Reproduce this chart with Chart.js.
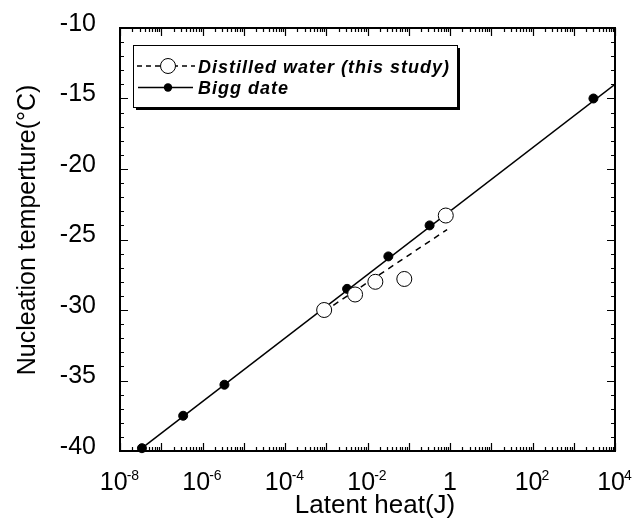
<!DOCTYPE html>
<html>
<head>
<meta charset="utf-8">
<script src="https://cdn.jsdelivr.net/npm/chart.js@4.4.1/dist/chart.umd.min.js"></script>
<style>
  html, body { margin: 0; padding: 0; background: #fff; }
  #wrap { width: 632px; height: 520px; }
</style>
</head>
<body>
<div id="wrap"><canvas id="grafico"></canvas></div>
<script>
// Bigg data (filled dots) and its straight line
var biggX = [3.4e-8, 3.4e-7, 3.4e-6, 3.2e-3, 3.2e-2, 0.32, 3000];
var biggY = [-39.8, -37.5, -35.3, -28.5, -26.2, -24.0, -15.0];
var biggLineX = [3.4e-8, 1e4];
var biggLineY = [-39.8, -14.0];

// Distilled water (open circles) and its dashed line
var waterX = [8.9e-4, 5.0e-3, 1.55e-2, 7.8e-2, 0.79];
var waterY = [-30.0, -28.9, -28.0, -27.8, -23.3];
var waterLineX = [8.9e-4, 0.85];
var waterLineY = [-30.1, -24.3];

// tick labels
var xTickExps = [-8, -6, -4, -2, 0, 2, 4];
var yTicks = [-40, -35, -30, -25, -20, -15, -10];

function pares(xs, ys) {
    return xs.map(function (x, i) { return { x: x, y: ys[i] }; });
}

var fonte = "'Liberation Sans', Arial, sans-serif";

// eixos: moldura, ticks para dentro, rótulos, títulos e legenda
var eixosPlugin = {
    id: 'eixos',
    afterDraw: function (chart) {
        var ctx = chart.ctx;
        var a = chart.chartArea;
        var sx = chart.scales.x, sy = chart.scales.y;
        ctx.save();
        ctx.strokeStyle = '#000';
        ctx.fillStyle = '#000';

        // ticks x (décadas e menores)
        ctx.lineWidth = 1.2;
        for (var d = -8; d <= 4; d++) {
            for (var k = 1; k <= 9; k++) {
                if (d === 4 && k > 1) break;
                var px = Math.round(sx.getPixelForValue(k * Math.pow(10, d))) + 0.5;
                var len = k === 1 ? 8 : 4;
                ctx.beginPath();
                ctx.moveTo(px, a.bottom); ctx.lineTo(px, a.bottom - len);
                ctx.moveTo(px, a.top); ctx.lineTo(px, a.top + len);
                ctx.stroke();
            }
        }
        // ticks y
        for (var v = -40; v <= -10; v++) {
            var py = Math.round(sy.getPixelForValue(v)) + 0.5;
            var l = v % 5 === 0 ? 8 : 4;
            ctx.beginPath();
            ctx.moveTo(a.left, py); ctx.lineTo(a.left + l, py);
            ctx.moveTo(a.right, py); ctx.lineTo(a.right - l, py);
            ctx.stroke();
        }

        // moldura
        ctx.lineWidth = 2;
        ctx.strokeRect(a.left, a.top, a.right - a.left, a.bottom - a.top);

        // rótulos y
        ctx.font = '25px ' + fonte;
        ctx.textAlign = 'right';
        ctx.textBaseline = 'middle';
        yTicks.forEach(function (t) {
            ctx.fillText(String(t), a.left - 24, sy.getPixelForValue(t) - 4);
        });

        // rótulos x com expoente
        ctx.textBaseline = 'alphabetic';
        ctx.textAlign = 'left';
        var base = a.bottom + 39;
        xTickExps.forEach(function (e) {
            var cx = sx.getPixelForValue(Math.pow(10, e));
            ctx.font = '25px ' + fonte;
            if (e === 0) {
                var w1 = ctx.measureText('1').width;
                ctx.fillText('1', cx - w1 / 2, base);
                return;
            }
            var wm = ctx.measureText('10').width;
            ctx.font = '14px ' + fonte;
            var we = ctx.measureText(String(e)).width;
            var x0 = cx - (wm + we) / 2;
            ctx.font = '25px ' + fonte;
            ctx.fillText('10', x0, base);
            ctx.font = '14px ' + fonte;
            ctx.fillText(String(e), x0 + wm - 1, base - 10);
        });

        // títulos
        ctx.font = '26px ' + fonte;
        ctx.textAlign = 'center';
        ctx.textBaseline = 'alphabetic';
        ctx.fillText('Latent heat(J)', 375, 513);
        ctx.save();
        ctx.font = '25px ' + fonte;
        ctx.translate(35, 230);
        ctx.rotate(-Math.PI / 2);
        ctx.fillText('Nucleation temperture(\u00B0C)', 0, 0);
        ctx.restore();

        // legenda
        var bx = 133, by = 45, bw = 324, bh = 62;
        ctx.fillStyle = '#000';
        ctx.fillRect(bx + 3, by + 3, bw, bh);
        ctx.fillStyle = '#fff';
        ctx.fillRect(bx, by, bw, bh);
        ctx.lineWidth = 1;
        ctx.strokeStyle = '#000';
        ctx.strokeRect(bx + 0.5, by + 0.5, bw, bh);

        var r1 = 66, r2 = 87.5;
        ctx.lineWidth = 1.5;
        ctx.setLineDash([5, 4]);
        ctx.beginPath(); ctx.moveTo(137, r1); ctx.lineTo(195, r1); ctx.stroke();
        ctx.setLineDash([]);
        ctx.beginPath(); ctx.arc(168, r1, 7.5, 0, Math.PI * 2);
        ctx.fillStyle = '#fff'; ctx.fill();
        ctx.lineWidth = 1; ctx.stroke();

        ctx.lineWidth = 1.5;
        ctx.beginPath(); ctx.moveTo(138, r2); ctx.lineTo(193, r2); ctx.stroke();
        ctx.beginPath(); ctx.arc(168, r2, 4.2, 0, Math.PI * 2);
        ctx.fillStyle = '#000'; ctx.fill();

        ctx.font = 'italic bold 18px ' + fonte;
        ctx.letterSpacing = '1px';
        ctx.textAlign = 'left';
        ctx.textBaseline = 'alphabetic';
        ctx.fillText('Distilled water (this study)', 198, 72.5);
        ctx.fillText('Bigg date', 198, 94);
        ctx.restore();
    }
};

var config = {
    type: 'scatter',
    data: {
        datasets: [
            {
                label: 'Distilled water (this study)',
                data: pares(waterX, waterY),
                pointRadius: 7.5,
                pointBackgroundColor: '#fff',
                pointBorderColor: '#000',
                pointBorderWidth: 1,
                showLine: false,
                order: 0
            },
            {
                label: 'water line',
                data: pares(waterLineX, waterLineY),
                showLine: true,
                borderColor: '#000',
                borderWidth: 1.5,
                borderDash: [6, 5],
                pointRadius: 0,
                order: 1
            },
            {
                label: 'Bigg date',
                data: pares(biggX, biggY),
                pointRadius: 4.5,
                pointBackgroundColor: '#000',
                pointBorderColor: '#000',
                showLine: false,
                clip: false,
                order: 2
            },
            {
                label: 'Bigg line',
                data: pares(biggLineX, biggLineY),
                showLine: true,
                borderColor: '#000',
                borderWidth: 1.5,
                pointRadius: 0,
                order: 3
            }
        ]
    },
    options: {
        responsive: true,
        maintainAspectRatio: false,
        animation: false,
        layout: { padding: { left: 0, right: 17, top: 28, bottom: 0 } },
        scales: {
            x: {
                type: 'logarithmic',
                min: 1e-8,
                max: 1e4,
                grid: { display: false },
                border: { display: false },
                ticks: { display: false },
                afterFit: function (s) { s.height = 69; }
            },
            y: {
                min: -40,
                max: -10,
                grid: { display: false },
                border: { display: false },
                ticks: { display: false },
                afterFit: function (s) { s.width = 120; }
            }
        },
        plugins: {
            legend: { display: false },
            tooltip: { enabled: false }
        }
    },
    plugins: [eixosPlugin]
};

var grafico = new Chart(document.getElementById('grafico').getContext('2d'), config);
</script>
</body>
</html>
